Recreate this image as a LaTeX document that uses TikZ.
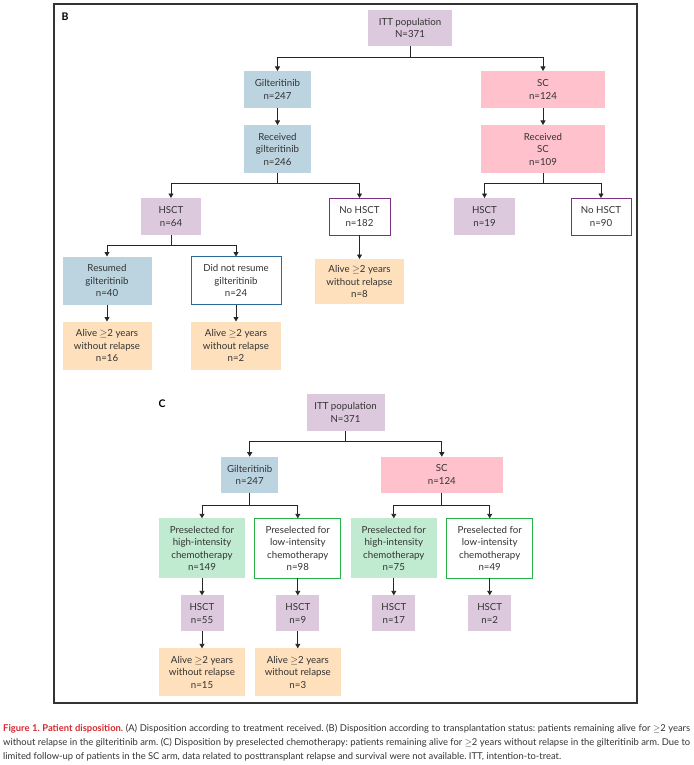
\documentclass[tikz,border=0pt]{standalone}
\usepackage{fontspec}
\setmainfont{Lato}
\usetikzlibrary{positioning,arrows.meta}

\definecolor{ittmauve}{HTML}{DDC9DD}
\definecolor{gilblue}{HTML}{BCD4E0}
\definecolor{scpink}{HTML}{FFC2CC}
\definecolor{alivepeach}{HTML}{FEE0BC}
\definecolor{hichemo}{HTML}{C0EBD1}
\definecolor{edgepurple}{HTML}{7D2F86}
\definecolor{edgeblue}{HTML}{2A6A99}
\definecolor{edgegreen}{HTML}{29B24A}
\definecolor{inkgray}{HTML}{333333}
\definecolor{figred}{HTML}{D7282F}

\begin{document}
\begin{tikzpicture}[
    x=1pt, y=-1pt,
    font=\fontsize{9.7}{12.5}\selectfont,
    text=inkgray,
    node distance=17pt,
    box/.style={fill=#1, draw=none, align=center, inner sep=2pt, outer sep=0pt},
    linebox/.style={fill=white, draw=#1, line width=0.8pt, align=center, inner sep=2pt, outer sep=0pt},
    dims/.style 2 args={minimum width=#1pt, minimum height=#2pt},
    arrow/.style={-{Triangle[length=4.5pt,width=5pt]}, line width=0.9pt, draw=black!85},
    panel/.style={font=\fontsize{10.5}{12}\selectfont\bfseries, text=black}
]
\useasboundingbox (0,0) rectangle (693,765);

\draw[line width=1.2pt, draw=black!80] (54,4) rectangle (637,703);

% panel B: transplantation status
\node[panel] (labB) at (65,17) {B};

\node[box=ittmauve, dims={84}{36}] (bITT) at (410,28) {ITT population\\N=371};
\node[box=gilblue, dims={67}{37}] (bGil) at (277.5,89.5) {Gilteritinib\\n=247};
\node[box=scpink, dims={124}{37}] (bSC) at (543,89.5) {SC\\n=124};
\node[box=gilblue, dims={67}{48}, below=of bGil] (bRecGil) {Received\\gilteritinib\\n=246};
\node[box=scpink, dims={124}{48}, below=of bSC] (bRecSC) {Received\\SC\\n=109};

\node[box=ittmauve, dims={60}{37}] (bHsct) at (171,216.5) {HSCT\\n=64};
\node[linebox=edgepurple, dims={61}{37}] (bNoHsct) at (359.5,216.5) {No HSCT\\n=182};
\node[box=ittmauve, dims={61}{37}] (bScHsct) at (484.5,216.5) {HSCT\\n=19};
\node[linebox=edgepurple, dims={60}{37}] (bScNoHsct) at (601,216.5) {No HSCT\\n=90};

\node[box=gilblue, dims={89}{48}] (bResumed) at (107,280.5) {Resumed\\gilteritinib\\n=40};
\node[linebox=edgeblue, dims={90}{48}] (bNotResumed) at (236,280.5) {Did not resume\\gilteritinib\\n=24};
\node[box=alivepeach, dims={89}{45}, below=24pt of bNoHsct] (bAlive8) {Alive $\geq$2 years\\without relapse\\n=8};
\node[box=alivepeach, dims={89}{48}, below=of bResumed] (bAlive16) {Alive $\geq$2 years\\without relapse\\n=16};
\node[box=alivepeach, dims={90}{48}, below=of bNotResumed] (bAlive2) {Alive $\geq$2 years\\without relapse\\n=2};

\draw[arrow] (bITT.south) -- ++(0,11.5) -| (bGil.north);
\draw[arrow] (bITT.south) -- ++(0,11.5) -| (bSC.north);
\draw[arrow] (bGil) -- (bRecGil);
\draw[arrow] (bSC) -- (bRecSC);
\draw[arrow] (bRecGil.south) -- ++(0,10) -| (bHsct.north);
\draw[arrow] (bRecGil.south) -- ++(0,10) -| (bNoHsct.north);
\draw[arrow] (bRecSC.south) -- ++(0,10) -| (bScHsct.north);
\draw[arrow] (bRecSC.south) -- ++(0,10) -| (bScNoHsct.north);
\draw[arrow] (bHsct.south) -- ++(0,10.5) -| (bResumed.north);
\draw[arrow] (bHsct.south) -- ++(0,10.5) -| (bNotResumed.north);
\draw[arrow] (bNoHsct) -- (bAlive8);
\draw[arrow] (bResumed) -- (bAlive16);
\draw[arrow] (bNotResumed) -- (bAlive2);

% panel C: preselected chemotherapy
\node[panel] (labC) at (162,404) {C};

\node[box=ittmauve, dims={78}{37}] (cITT) at (345.5,412.5) {ITT population\\N=371};
\node[box=gilblue, dims={57}{36}] (cGil) at (249.7,474.7) {Gilteritinib\\n=247};
\node[box=scpink, dims={122}{36}] (cSC) at (441.8,474.7) {SC\\n=124};

\node[box=hichemo, dims={86}{60}] (cHiGil) at (202,548.3) {Preselected for\\high-intensity\\chemotherapy\\n=149};
\node[linebox=edgegreen, dims={86}{60}] (cLoGil) at (297.8,548.3) {Preselected for\\low-intensity\\chemotherapy\\n=98};
\node[box=hichemo, dims={86}{60}] (cHiSC) at (393.8,548.3) {Preselected for\\high-intensity\\chemotherapy\\n=75};
\node[linebox=edgegreen, dims={86}{60}] (cLoSC) at (489.7,548.3) {Preselected for\\low-intensity\\chemotherapy\\n=49};

\node[box=ittmauve, dims={43}{36}, below=of cHiGil] (cHsct55) {HSCT\\n=55};
\node[box=ittmauve, dims={43}{36}, below=of cLoGil] (cHsct9) {HSCT\\n=9};
\node[box=ittmauve, dims={43}{36}, below=of cHiSC] (cHsct17) {HSCT\\n=17};
\node[box=ittmauve, dims={43}{36}, below=of cLoSC] (cHsct2) {HSCT\\n=2};
\node[box=alivepeach, dims={86}{48}, below=of cHsct55] (cAlive15) {Alive $\geq$2 years\\without relapse\\n=15};
\node[box=alivepeach, dims={86}{48}, below=of cHsct9] (cAlive3) {Alive $\geq$2 years\\without relapse\\n=3};

\draw[arrow] (cITT.south) -- ++(0,10.7) -| (cGil.north);
\draw[arrow] (cITT.south) -- ++(0,10.7) -| (cSC.north);
\draw[arrow] (cGil.south) -- ++(0,12.3) -| (cHiGil.north);
\draw[arrow] (cGil.south) -- ++(0,12.3) -| (cLoGil.north);
\draw[arrow] (cSC.south) -- ++(0,12.3) -| (cHiSC.north);
\draw[arrow] (cSC.south) -- ++(0,12.3) -| (cLoSC.north);
\draw[arrow] (cHiGil) -- (cHsct55);
\draw[arrow] (cLoGil) -- (cHsct9);
\draw[arrow] (cHiSC) -- (cHsct17);
\draw[arrow] (cLoSC) -- (cHsct2);
\draw[arrow] (cHsct55) -- (cAlive15);
\draw[arrow] (cHsct9) -- (cAlive3);

% caption
\node[anchor=north west, text width=687pt, align=justify, inner sep=0pt,
      font=\fontsize{9.4}{14}\selectfont] (caption) at (3,724.5)
  {\hyphenpenalty=10000\relax\frenchspacing
   {\color{figred}\bfseries Figure 1. Patient disposition.} (A) Disposition according to treatment received. (B) Disposition according to transplantation status: patients remaining alive for $\geq$2 years\linebreak
   without relapse in the gilteritinib arm. (C) Disposition by preselected chemotherapy: patients remaining alive for $\geq$2 years without relapse in the gilteritinib arm. Due to\linebreak
   limited follow-up of patients in the SC arm, data related to posttransplant relapse and survival were not available. ITT, intention-to-treat.};
\end{tikzpicture}
\end{document}
